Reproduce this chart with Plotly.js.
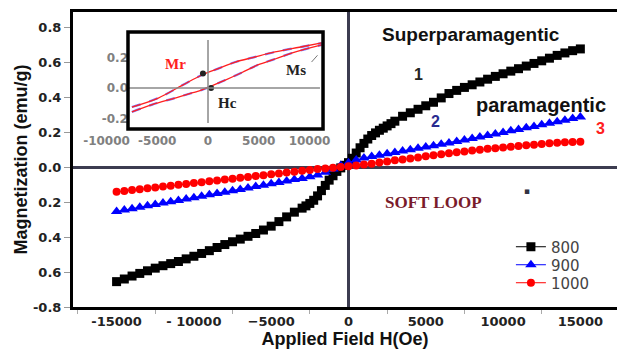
<!DOCTYPE html>
<html>
<head>
<meta charset="utf-8">
<script src="https://cdn.plot.ly/plotly-3.0.1.min.js"></script>
<style>html,body{margin:0;padding:0;background:#fff;}#chart{width:617px;height:355px;}</style>
</head>
<body>
<div id="chart"></div>
<script>
// ---- main chart data ----
var hBlack = [-15000,-14500,-14000,-13500,-13000,-12500,-12000,-11500,-11000,-10500,-10000,-9500,-9000,-8500,-8000,-7500,-7000,-6500,-6000,-5500,-5000,-4500,-4000,-3500,-3000,-2750,-2500,-2250,-2000,-1750,-1500,-1250,-1000,-750,-500,-250,0,250,500,750,1000,1250,1500,1750,2000,2250,2500,2750,3000,3500,4000,4500,5000,5500,6000,6500,7000,7500,8000,8500,9000,9500,10000,10500,11000,11500,12000,12500,13000,13500,14000,14500,15000];
var m800 = [-0.655,-0.640,-0.623,-0.608,-0.593,-0.578,-0.564,-0.552,-0.540,-0.525,-0.510,-0.494,-0.478,-0.460,-0.443,-0.427,-0.412,-0.396,-0.380,-0.360,-0.338,-0.312,-0.285,-0.258,-0.235,-0.222,-0.208,-0.190,-0.165,-0.135,-0.105,-0.075,-0.050,-0.025,-0.005,0.010,0.025,0.050,0.080,0.110,0.135,0.160,0.180,0.195,0.210,0.222,0.235,0.248,0.262,0.290,0.310,0.330,0.350,0.370,0.395,0.420,0.438,0.455,0.470,0.486,0.502,0.518,0.533,0.548,0.562,0.577,0.592,0.607,0.622,0.638,0.652,0.665,0.675];

var hField = [-15000,-14500,-14000,-13500,-13000,-12500,-12000,-11500,-11000,-10500,-10000,-9500,-9000,-8500,-8000,-7500,-7000,-6500,-6000,-5500,-5000,-4500,-4000,-3500,-3000,-2500,-2000,-1500,-1000,-500,0,500,1000,1500,2000,2500,3000,3500,4000,4500,5000,5500,6000,6500,7000,7500,8000,8500,9000,9500,10000,10500,11000,11500,12000,12500,13000,13500,14000,14500,15000];
var m900 = [-0.254,-0.246,-0.238,-0.230,-0.222,-0.214,-0.206,-0.198,-0.191,-0.183,-0.175,-0.167,-0.159,-0.151,-0.144,-0.136,-0.128,-0.120,-0.112,-0.104,-0.096,-0.088,-0.080,-0.072,-0.065,-0.056,-0.046,-0.030,-0.012,0.008,0.025,0.040,0.052,0.060,0.068,0.076,0.083,0.091,0.099,0.107,0.115,0.122,0.130,0.137,0.146,0.154,0.163,0.172,0.180,0.189,0.198,0.207,0.215,0.224,0.232,0.241,0.250,0.259,0.268,0.277,0.286];
var m1000 = [-0.142,-0.137,-0.132,-0.127,-0.122,-0.117,-0.112,-0.107,-0.102,-0.097,-0.092,-0.087,-0.082,-0.077,-0.072,-0.067,-0.062,-0.057,-0.052,-0.047,-0.042,-0.037,-0.032,-0.027,-0.022,-0.017,-0.012,-0.008,-0.004,0.000,0.004,0.009,0.014,0.019,0.026,0.032,0.038,0.043,0.049,0.055,0.061,0.067,0.073,0.079,0.084,0.089,0.094,0.099,0.104,0.108,0.112,0.116,0.120,0.124,0.128,0.132,0.136,0.139,0.141,0.143,0.145];

var seriesNames = ['800','900','1000'];

var xTickVals = [-15000,-10000,-5000,0,5000,10000,15000];
var xTickText = ['-15000','- 10000','\u22125000','0','5000','10000','15000'];
var yTickVals = [0.8,0.6,0.4,0.2,0,-0.2,-0.4,-0.6,-0.8];
var yTickText = ['0.8','0.6','0.4','0.2','0.0','0.2','0.4','0.6','-0.8'];

// ---- inset (hysteresis loop) data ----
var hUpper = [-7500,-4900,-2500,-600,1000,2700,4500,6600,9000,11200];
var mUpper = [-0.125,-0.066,0.019,0.085,0.127,0.170,0.201,0.236,0.267,0.295];
var hLower = [-7500,-5500,-3250,-1500,-600,1700,3300,4900,6600,8300,11200];
var mLower = [-0.157,-0.109,-0.066,-0.031,-0.013,0.052,0.100,0.151,0.190,0.230,0.282];
var hMarks = [-500,300];
var mMarks = [0.095,0.0];
var hMs = [10200,11200];
var mMs = [0.17,0.245];
var insetXVals = [-10000,-5000,0,5000,10000];
var insetXText = ['-10000','-5000','0','5000','10000'];
var insetYVals = [0.2,0,-0.2];
var insetYText = ['0.2','0.0','-0.2'];

var traces = [
  {x:hBlack, y:m800, name:seriesNames[0], type:'scatter', mode:'lines+markers', legend:'legend',
   line:{color:'#000',width:1}, marker:{symbol:'square',size:9,color:'#000'}},
  {x:hField, y:m900, name:seriesNames[1], type:'scatter', mode:'lines+markers', legend:'legend2',
   line:{color:'#0000ff',width:1}, marker:{symbol:'triangle-up',size:10,color:'#0000ff'}},
  {x:hField, y:m1000, name:seriesNames[2], type:'scatter', mode:'lines+markers', legend:'legend3',
   line:{color:'#ff0000',width:1}, marker:{symbol:'circle',size:8,color:'#ff0000'}},
  // inset
  {x:hUpper, y:mUpper, xaxis:'x2', yaxis:'y2', mode:'lines', showlegend:false, line:{color:'#7777ff',width:2.2,dash:'dash',shape:'spline'}},
  {x:hLower, y:mLower, xaxis:'x2', yaxis:'y2', mode:'lines', showlegend:false, line:{color:'#7777ff',width:2.2,dash:'dash',shape:'spline'}},
  {x:hUpper, y:mUpper, xaxis:'x2', yaxis:'y2', mode:'lines', showlegend:false, line:{color:'#ff2020',width:1.3,shape:'spline'}},
  {x:hLower, y:mLower, xaxis:'x2', yaxis:'y2', mode:'lines', showlegend:false, line:{color:'#ff2020',width:1.3,shape:'spline'}},
  {x:hMarks, y:mMarks, xaxis:'x2', yaxis:'y2', mode:'markers', showlegend:false, marker:{symbol:'circle',size:6,color:'#222'}},
  {x:hMs, y:mMs, xaxis:'x2', yaxis:'y2', mode:'lines', showlegend:false, line:{color:'#777',width:1,dash:'dash'}}
];

var tickFont = {family:'DejaVu Sans', size:13, color:'#222', weight:'bold'};
var insetFont = {family:'DejaVu Sans', size:12, color:'#808080', weight:'bold'};
var legendFont = {family:'DejaVu Sans', size:15, color:'#444'};
function legendAt(yy){
  return {x:0.805, y:yy, xanchor:'left', yanchor:'middle', bgcolor:'rgba(0,0,0,0)', font:legendFont, borderwidth:0};
}

var layout = {
  width:617, height:355,
  margin:{l:73, r:0, t:12, b:48},
  paper_bgcolor:'#fff', plot_bgcolor:'rgba(0,0,0,0)',
  showlegend:true,
  legend:legendAt(0.2034),
  legend2:legendAt(0.1424),
  legend3:legendAt(0.0814),
  xaxis:{range:[-17820,17370], showgrid:false, zeroline:true, zerolinecolor:'#3c3c50', zerolinewidth:3,
         showline:true, linecolor:'#000', linewidth:3, mirror:true,
         tickvals:xTickVals, ticktext:xTickText, ticks:'', tickfont:tickFont,
         minor:{tick0:2500, dtick:5000, ticks:'outside', ticklen:4, tickcolor:'#aaa', tickwidth:1, showgrid:false},
         title:{text:'Applied Field H(Oe)', font:{family:'Liberation Sans', size:18, color:'#111', weight:'bold'}, standoff:4}},
  yaxis:{range:[-0.8,0.886], showgrid:false, zeroline:true, zerolinecolor:'#3c3c50', zerolinewidth:3,
         showline:true, linecolor:'#000', linewidth:3, mirror:false,
         tickvals:yTickVals, ticktext:yTickText, ticks:'outside', ticklen:6, tickcolor:'#999', tickwidth:1, tickfont:tickFont,
         title:{text:'Magnetization (emu/g)', font:{family:'Liberation Sans', size:18, color:'#111', weight:'bold'}, standoff:1}},
  xaxis2:{domain:[0.0243,0.4577], anchor:'y2', range:[-12000,11230], showgrid:false, zeroline:false, showline:false,
          tickvals:insetXVals, ticktext:insetXText, ticks:'', tickfont:insetFont, ticklabelstandoff:3},
  yaxis2:{domain:[0.6034,0.9322], anchor:'free', position:0.1011, range:[-0.269,0.367], showgrid:false, zeroline:false, showline:false,
          tickvals:insetYVals, ticktext:insetYText, ticks:'', tickfont:insetFont},
  shapes:[
    {type:'line', xref:'x2', yref:'y2', x0:0, x1:0, y0:-0.23, y1:0.315, line:{color:'#888',width:1.5}},
    {type:'line', xref:'x2', yref:'y2', x0:-7880, x1:11030, y0:0, y1:0, line:{color:'#888',width:1.5}},
    {type:'rect', xref:'paper', yref:'paper', x0:0.1011, x1:0.4596, y0:0.6034, y1:0.9322, line:{color:'#000',width:3.5}, fillcolor:'rgba(0,0,0,0)', layer:'above'}
  ],
  annotations:[
    {text:'Superparamagentic', x:7900, y:0.755, xref:'x', yref:'y', showarrow:false, xanchor:'center', yanchor:'middle', font:{family:'Liberation Sans', size:19, color:'#111', weight:'bold'}},
    {text:'1', x:4500, y:0.526, xref:'x', yref:'y', showarrow:false, font:{family:'Liberation Sans', size:16, color:'#222', weight:'bold'}},
    {text:'paramagentic', x:8150, y:0.355, xref:'x', yref:'y', showarrow:false, xanchor:'left', font:{family:'Liberation Sans', size:20, color:'#111', weight:'bold'}},
    {text:'2', x:5650, y:0.26, xref:'x', yref:'y', showarrow:false, font:{family:'Liberation Sans', size:16, color:'#2a2a90', weight:'bold'}},
    {text:'3', x:16270, y:0.22, xref:'x', yref:'y', showarrow:false, font:{family:'Liberation Sans', size:16, color:'#ff2020', weight:'bold'}},
    {text:'SOFT LOOP', x:5520, y:-0.2, xref:'x', yref:'y', showarrow:false, font:{family:'Liberation Serif', size:17, color:'#7a1b2b', weight:'bold'}},
    {text:'\u25AA', x:11580, y:-0.137, xref:'x', yref:'y', showarrow:false, font:{family:'DejaVu Sans', size:9, color:'#334'}},
    {text:'Mr', x:-3200, y:0.16, xref:'x2', yref:'y2', showarrow:false, font:{family:'Liberation Serif', size:15, color:'#ff2020', weight:'bold'}},
    {text:'Hc', x:1950, y:-0.1, xref:'x2', yref:'y2', showarrow:false, font:{family:'Liberation Serif', size:15, color:'#222', weight:'bold'}},
    {text:'Ms', x:8650, y:0.12, xref:'x2', yref:'y2', showarrow:false, font:{family:'Liberation Serif', size:15, color:'#222', weight:'bold'}}
  ]
};

Plotly.newPlot('chart', traces, layout, {displayModeBar:false, staticPlot:true});
</script>
</body>
</html>
